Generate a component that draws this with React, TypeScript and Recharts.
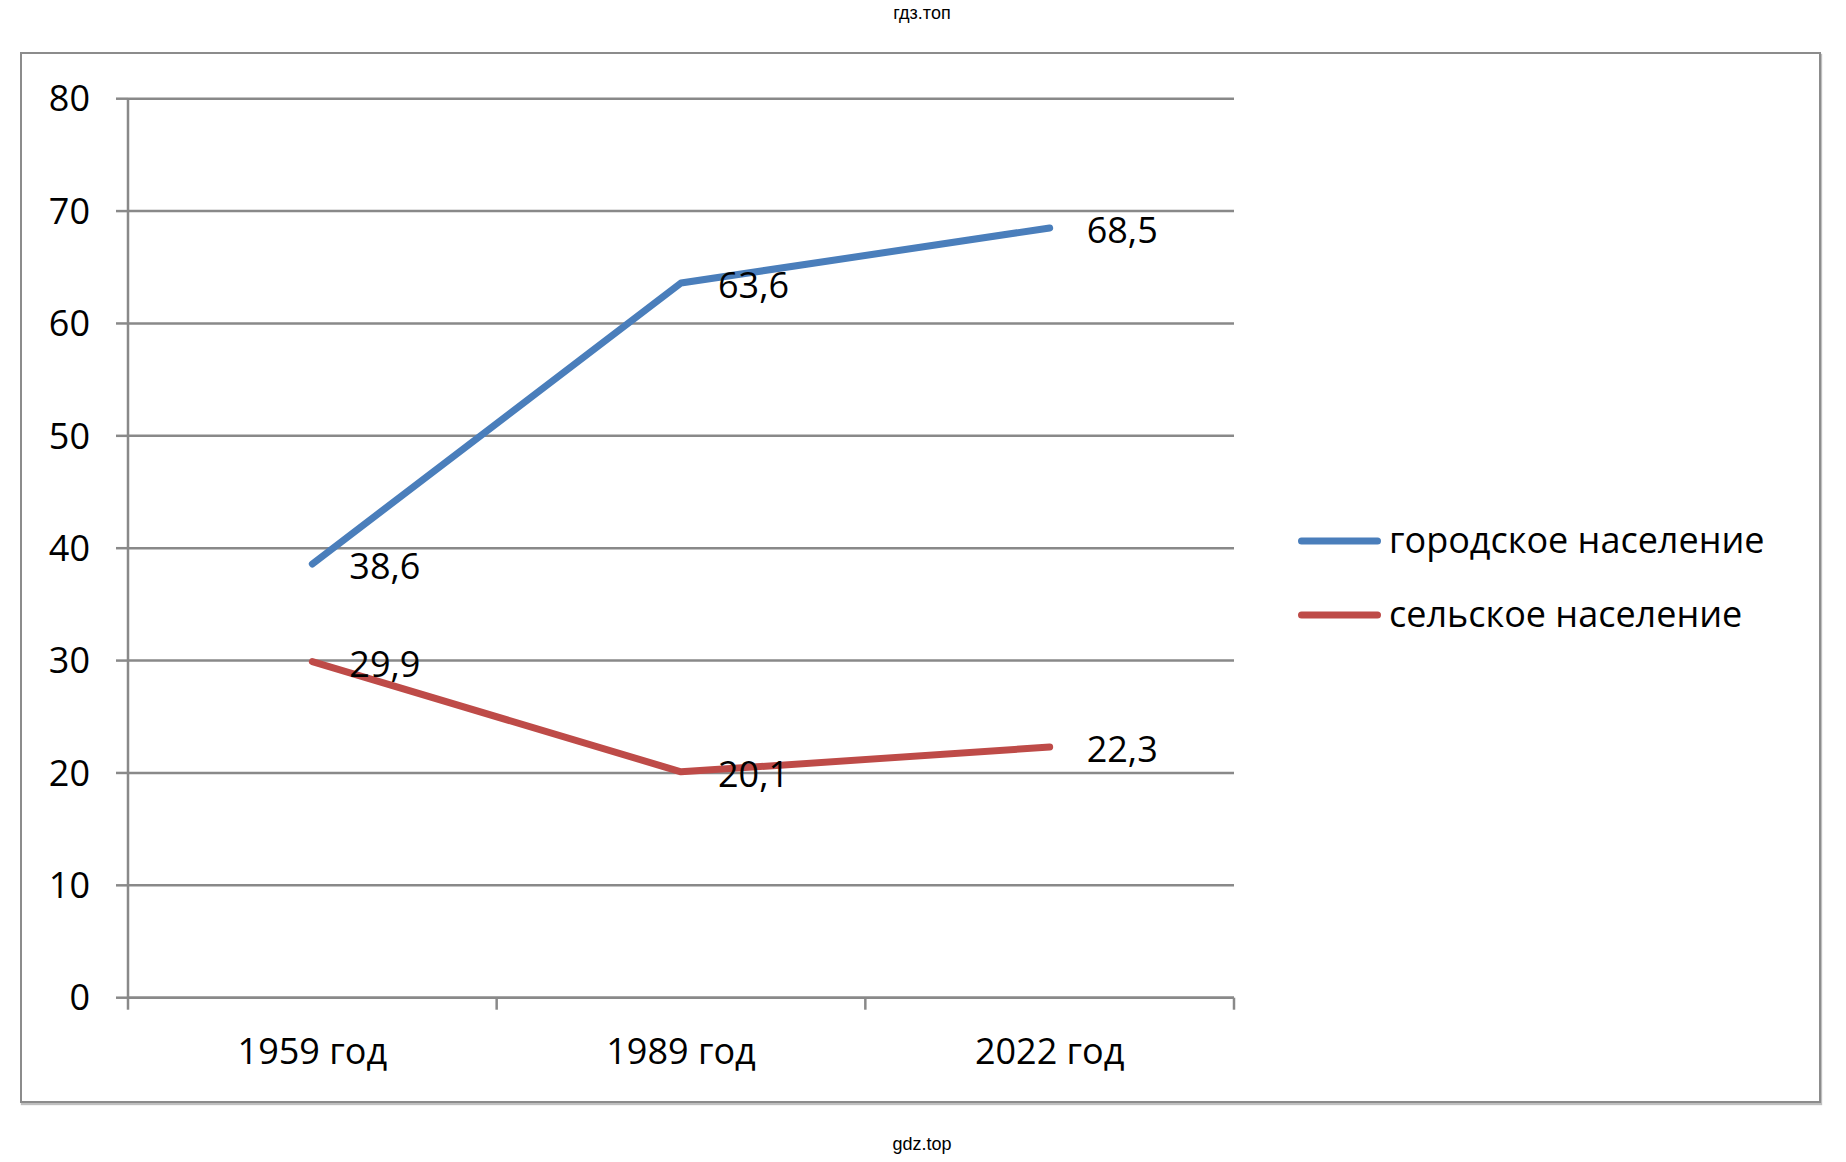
import React from 'react';
import { LineChart, Line, XAxis, YAxis, CartesianGrid, Legend, LabelList } from 'recharts';

const categories = ['1959 год', '1989 год', '2022 год'];
const urban = [38.6, 63.6, 68.5];
const rural = [29.9, 20.1, 22.3];
const seriesNames = ['городское население', 'сельское население'];
const yTicks = [0, 10, 20, 30, 40, 50, 60, 70, 80];

const data = categories.map((c, i) => ({ cat: c, urban: urban[i], rural: rural[i] }));

const FONT = '"Open Sans", "Noto Sans", sans-serif';
const GRID = '#898989';
const BLUE = '#4a7ebb';
const RED = '#be4b48';
const X_TICK_SIZE = 12;
const X_TICK_MARGIN = 28.7;

const XTick = (props: any) => {
  const { x, y, payload, index, visibleTicksCount, width } = props;
  const band = width / visibleTicksCount;
  const axisY = y - X_TICK_SIZE - X_TICK_MARGIN;
  return (
    <g>
      <line x1={x - band / 2} x2={x - band / 2} y1={axisY} y2={axisY + X_TICK_SIZE} stroke={GRID} strokeWidth={2.5} />
      {index === visibleTicksCount - 1 && (
        <line x1={x + band / 2} x2={x + band / 2} y1={axisY} y2={axisY + X_TICK_SIZE} stroke={GRID} strokeWidth={2.5} />
      )}
      <text x={x} y={y} dy="0.71em" textAnchor="middle" fill="#000" fontSize={36} fontFamily={FONT}>
        {payload.value}
      </text>
    </g>
  );
};

const DataLabel = (props: any) => {
  const { x, y, value } = props;
  return (
    <text x={x + 37} y={y + 15} textAnchor="start" fill="#000" fontSize={36} fontFamily={FONT}>
      {String(value).replace('.', ',')}
    </text>
  );
};

const LegendContent = (props: any) => {
  const { payload } = props;
  return (
    <div style={{ fontFamily: FONT, fontSize: 36, color: '#000' }}>
      {(payload || []).map((p: any) => (
        <div key={p.value} style={{ display: 'flex', alignItems: 'center', height: 74, whiteSpace: 'nowrap' }}>
          <svg width={91} height={12} style={{ display: 'block' }}>
            <line x1={3.5} x2={79.5} y1={6} y2={6} stroke={p.color} strokeWidth={7} strokeLinecap="round" />
          </svg>
          <span style={{ position: 'relative', top: -1, lineHeight: 1.362 }}>{p.value}</span>
        </div>
      ))}
    </div>
  );
};

export default function App() {
  return (
    <div style={{ position: 'relative', width: 1830, height: 1146, background: '#fff' }}>
      <div
        style={{
          position: 'absolute', left: 814, width: 200, top: -4, lineHeight: '18px', textAlign: 'center',
          fontFamily: '"Liberation Sans", Arial, sans-serif', fontSize: 18, color: '#000',
        }}
      >
        гдз.топ
      </div>
      <div
        style={{
          position: 'absolute', left: 12, top: 44, width: 1801, height: 1051, boxSizing: 'border-box',
          border: '2.5px solid #8c8c8c', boxShadow: '1px 2px 1px rgba(0,0,0,0.25)',
        }}
      />
      <div style={{ position: 'absolute', left: 0, top: 0 }}>
        <LineChart
          width={1830}
          height={1146}
          data={data}
          margin={{ top: 90.7, right: 604, bottom: 96.3, left: 0 }}
        >
          <CartesianGrid vertical={false} stroke={GRID} strokeWidth={2.5} />
          <XAxis
            dataKey="cat"
            scale="band"
            height={60}
            tickLine={false}
            tickSize={X_TICK_SIZE}
            tickMargin={X_TICK_MARGIN}
            axisLine={{ stroke: GRID, strokeWidth: 2.5 }}
            tick={<XTick />}
            interval={0}
          />
          <YAxis
            width={120}
            domain={[0, 80]}
            ticks={yTicks}
            interval={0}
            tickSize={12}
            tickMargin={26}
            axisLine={{ stroke: GRID, strokeWidth: 2.5 }}
            tickLine={{ stroke: GRID, strokeWidth: 2.5 }}
            tick={{ fill: '#000', fontSize: 36, fontFamily: FONT }}
          />
          <Legend
            layout="vertical"
            align="center"
            verticalAlign="middle"
            content={<LegendContent />}
            wrapperStyle={{ left: 1290, top: 496, width: 520 }}
          />
          <Line
            type="linear"
            dataKey="urban"
            name={seriesNames[0]}
            stroke={BLUE}
            strokeWidth={7}
            strokeLinecap="round"
            strokeLinejoin="round"
            dot={false}
            activeDot={false}
            isAnimationActive={false}
          >
            <LabelList dataKey="urban" content={<DataLabel />} />
          </Line>
          <Line
            type="linear"
            dataKey="rural"
            name={seriesNames[1]}
            stroke={RED}
            strokeWidth={7}
            strokeLinecap="round"
            strokeLinejoin="round"
            dot={false}
            activeDot={false}
            isAnimationActive={false}
          >
            <LabelList dataKey="rural" content={<DataLabel />} />
          </Line>
        </LineChart>
      </div>
      <div
        style={{
          position: 'absolute', left: 814, width: 200, top: 1127, lineHeight: '18px', textAlign: 'center',
          fontFamily: '"Liberation Sans", Arial, sans-serif', fontSize: 18, color: '#000',
        }}
      >
        gdz.top
      </div>
    </div>
  );
}
